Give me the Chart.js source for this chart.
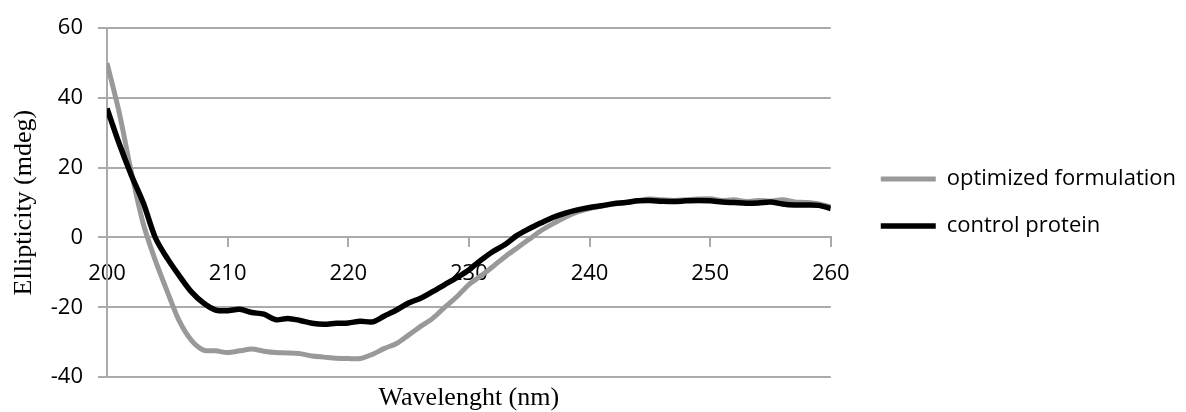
<!DOCTYPE html>
<html>
<head>
<meta charset="utf-8">
<script src="https://cdn.jsdelivr.net/npm/chart.js@4"></script>
<style>
  html, body { margin: 0; padding: 0; background: #fff; }
  #wrap { width: 1186px; height: 412px; }
</style>
</head>
<body>
<div id="wrap"><canvas id="cd"></canvas></div>
<script>
/* --------------- Data --------------------- */
const wavelengths = [];
for (let w = 200; w <= 260; w++) wavelengths.push(w);

const optimized = [
  50, 36, 19, 4, -6.5, -15.5, -24, -29.5, -32.3, -32.5,
  -33, -32.5, -32, -32.6, -33, -33.1, -33.3, -34, -34.3, -34.6,
  -34.7, -34.7, -33.5, -31.8, -30.4, -28, -25.5, -23.2, -20, -17,
  -13.5, -11, -8.3, -5.5, -3, -0.5, 2, 4, 5.8, 7.3,
  8.3, 9, 9.6, 10, 10.5, 11, 10.8, 10.6, 10.8, 11,
  11.1, 10.6, 10.8, 10.3, 10.6, 10.4, 10.8, 10.2, 10, 9.6,
  8.8
];
const control = [
  37, 27, 18, 10, 0, -6, -11, -15.6, -18.8, -20.8,
  -21, -20.6, -21.5, -22, -23.6, -23.2, -23.8, -24.6, -24.9, -24.6,
  -24.5, -24, -24.2, -22.5, -20.8, -18.8, -17.4, -15.5, -13.5, -11.5,
  -9.3, -6.5, -4, -2, 0.6, 2.5, 4.2, 5.8, 7, 7.9,
  8.6, 9.1, 9.7, 10, 10.5, 10.6, 10.4, 10.3, 10.5, 10.6,
  10.5, 10.2, 10, 9.8, 9.9, 10.2, 9.6, 9.3, 9.3, 9.2,
  8.3
];
const seriesNames = ["optimized formulation", "control protein"];
const yTicks = [-40, -20, 0, 20, 40, 60];
const xTicks = [200, 210, 220, 230, 240, 250, 260];

/* --------------- Styles --------------------- */
const gridGray = "#aaaaaa";
const sans = "'Open Sans', sans-serif";
const serif = "'Liberation Serif', 'Times New Roman', serif";

const toPoints = (vals) => vals.map((v, i) => ({ x: wavelengths[i], y: v }));

/* --------------- Chart --------------------- */
new Chart(document.getElementById("cd"), {
  type: "line",
  data: {
    datasets: [
      {
        label: seriesNames[0],
        data: toPoints(optimized),
        borderColor: "#999999",
        backgroundColor: "#999999",
        borderWidth: 5,
        pointRadius: 0,
        tension: 0.3,
        order: 1,
      },
      {
        label: seriesNames[1],
        data: toPoints(control),
        borderColor: "#000000",
        backgroundColor: "#000000",
        borderWidth: 5.5,
        pointRadius: 0,
        tension: 0.3,
        order: 0,
      },
    ],
  },
  options: {
    responsive: true,
    maintainAspectRatio: false,
    animation: false,
    layout: { padding: { top: 28, right: 0, left: 0, bottom: 0 } },
    plugins: {
      tooltip: { enabled: false },
      legend: {
        position: "right",
        fullSize: false,
        maxWidth: 400,
        labels: {
          usePointStyle: true,
          pointStyle: "line",
          pointStyleWidth: 55,
          padding: 25,
          color: "#000",
          font: { family: sans, size: 22 },
          sort: (a, b) => a.datasetIndex - b.datasetIndex,
        },
      },
    },
    scales: {
      x: {
        type: "linear",
        position: { y: 0 },
        min: 200,
        max: 260,
        afterBuildTicks: (s) => { s.ticks = xTicks.map((v) => ({ value: v })); },
        grid: { drawOnChartArea: false, drawTicks: true, tickLength: 9, color: gridGray, lineWidth: 2 },
        border: { display: true, color: gridGray, width: 2 },
        ticks: { color: "#000", padding: 14, maxRotation: 0, font: { family: sans, size: 22 } },
      },
      xt: {
        type: "linear",
        position: "bottom",
        grid: { display: false },
        border: { display: false },
        ticks: { display: false },
        title: {
          display: true,
          text: "Wavelenght (nm)",
          color: "#000",
          padding: { top: 0, bottom: 1 },
          font: { family: serif, size: 26, lineHeight: 1 },
        },
        afterFit: (s) => { s.height = 35; },
      },
      y: {
        min: -40,
        max: 60,
        afterBuildTicks: (s) => { s.ticks = yTicks.map((v) => ({ value: v })); },
        grid: { color: gridGray, lineWidth: 2, tickLength: 9 },
        border: { display: true, color: gridGray, width: 2 },
        ticks: { color: "#000", padding: 15, font: { family: sans, size: 22 } },
        title: {
          display: true,
          text: "Ellipticity (mdeg)",
          color: "#000",
          padding: { top: 9, bottom: 0 },
          font: { family: serif, size: 26 },
        },
        afterFit: (s) => { s.width = 107; },
      },
      gap: {
        type: "linear",
        position: "right",
        grid: { display: false },
        border: { display: false },
        ticks: { display: false },
        afterFit: (s) => { s.width = 25; },
      },
    },
  },
});
</script>
</body>
</html>
